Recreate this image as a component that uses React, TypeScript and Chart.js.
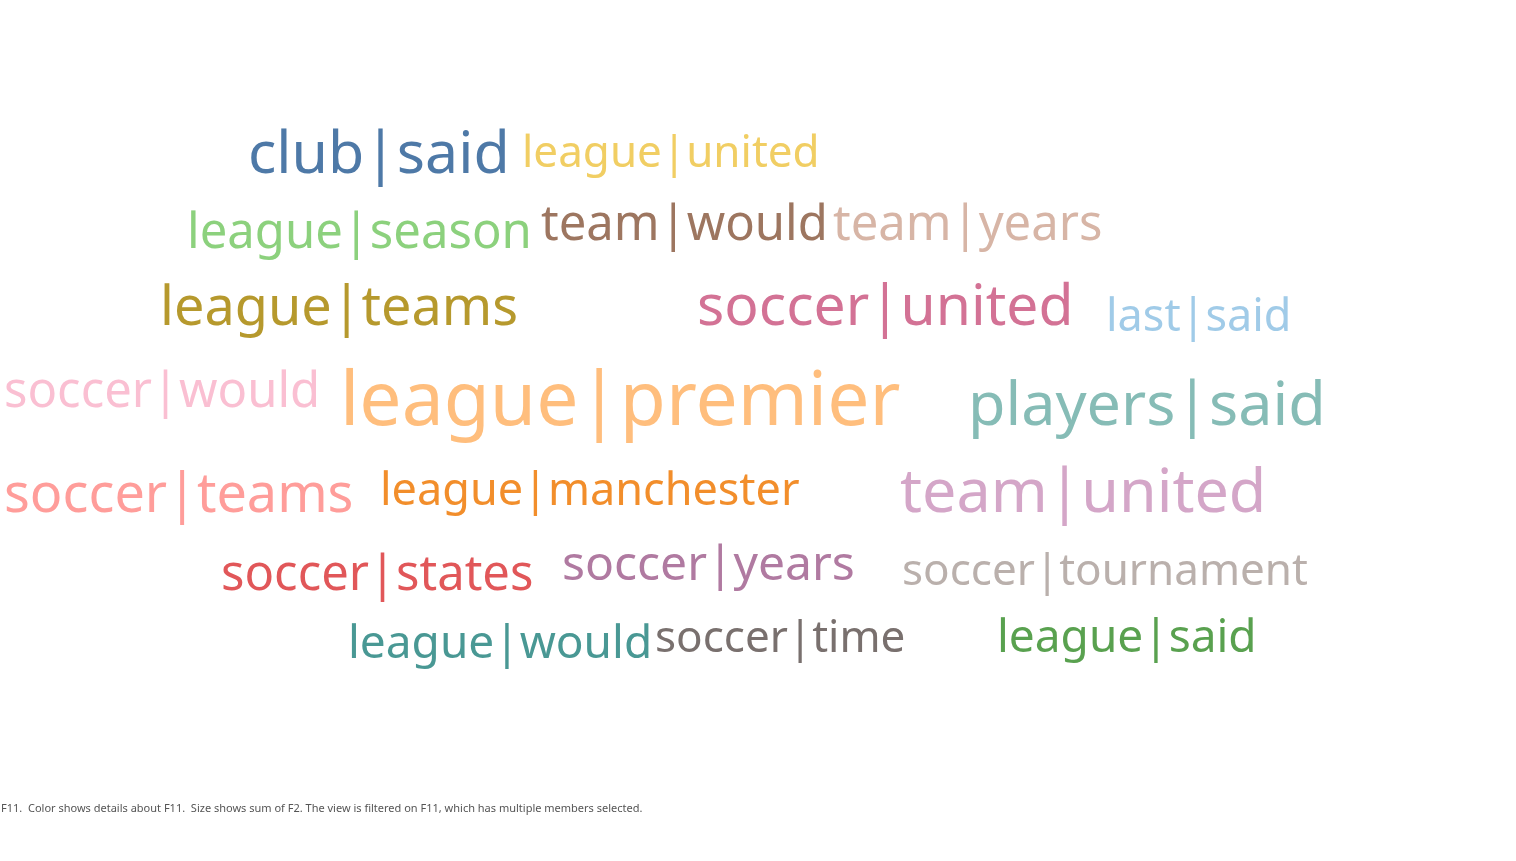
import { useEffect, useRef } from 'react'
import Chart from 'chart.js/auto'

// word pairs, layout position (left, baseline) and size (sum of F2)
const words = ['club|said', 'league|united', 'league|season', 'team|would', 'team|years', 'league|teams', 'soccer|united', 'last|said', 'soccer|would', 'league|premier', 'players|said', 'soccer|teams', 'league|manchester', 'team|united', 'soccer|states', 'soccer|years', 'soccer|tournament', 'league|would', 'soccer|time', 'league|said']
const xs = [248, 522, 187, 541, 833, 160, 697, 1106, 4, 340, 968, 4, 380, 900, 221, 562, 902, 348, 655, 997]
const ys = [173, 167, 248, 240, 240, 325, 325, 331, 407, 425, 425, 512, 505, 512, 590, 580, 585, 658, 652, 652]
const sizes = [59, 44, 49, 49, 49, 54, 57, 45, 49, 75, 61, 54, 45, 61, 49, 48, 44, 46, 44, 46]
const colors = ['#4e79a7', '#f1ce63', '#8cd17d', '#9d7660', '#d7b5a6', '#b6992d', '#d37295', '#a0cbe8', '#fabfd2', '#ffbe7d', '#86bcb6', '#ff9d9a', '#f28e2b', '#d4a6c8', '#e15759', '#b07aa1', '#bab0ac', '#499894', '#79706e', '#59a14f']

const FONT = '"Noto Sans", "Open Sans", sans-serif'

const wordPlugin = {
  id: 'words',
  afterDatasetsDraw(chart: any) {
    const { ctx, scales } = chart
    ctx.save()
    ctx.textBaseline = 'alphabetic'
    ctx.textAlign = 'left'
    words.forEach((w, i) => {
      ctx.font = `${sizes[i]}px ${FONT}`
      ctx.fillStyle = colors[i]
      ctx.fillText(w, scales.x.getPixelForValue(xs[i]), scales.y.getPixelForValue(ys[i]))
    })
    ctx.restore()
  }
}

const App = () => {
  const chartRef = useRef<HTMLCanvasElement>(null)

  useEffect(() => {
    if (!chartRef.current) return
    const chart = new Chart(chartRef.current, {
      type: 'scatter',
      data: {
        datasets: [{ data: words.map((_, i) => ({ x: xs[i], y: ys[i] })), pointRadius: 0 }]
      },
      options: {
        animation: false,
        responsive: true,
        maintainAspectRatio: false,
        layout: { padding: 0 },
        plugins: { legend: { display: false }, tooltip: { enabled: false } },
        scales: {
          x: { display: false, min: 0, max: 1516 },
          y: { display: false, min: 0, max: 861, reverse: true }
        }
      },
      plugins: [wordPlugin]
    })
    return () => chart.destroy()
  }, [])

  return (
    <div style={{ position: 'fixed', left: 0, top: 0, width: 1516, height: 861, background: '#fff' }}>
      <canvas ref={chartRef}></canvas>
      <div style={{ position: 'absolute', left: 1, top: 800, fontFamily: FONT, fontSize: 11, color: '#555' }}>
        F11.&nbsp; Color shows details about F11.&nbsp; Size shows sum of F2. The view is filtered on F11, which has multiple members selected.
      </div>
    </div>
  )
}

export default App
